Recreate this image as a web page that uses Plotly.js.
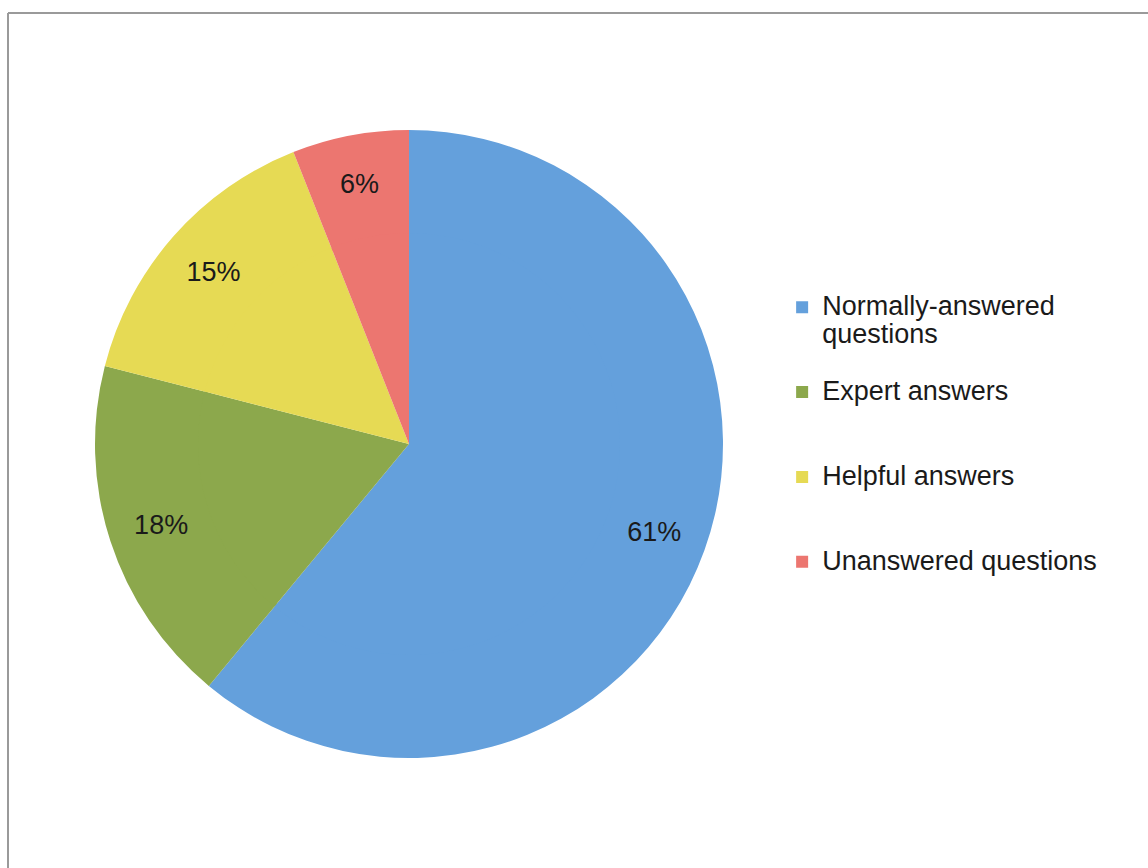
<!DOCTYPE html>
<html>
<head>
<meta charset="utf-8">
<script src="https://cdn.plot.ly/plotly-3.0.1.min.js"></script>
<style>
  html, body { margin: 0; padding: 0; background: #ffffff; }
  #chart { width: 1148px; height: 868px; }
</style>
</head>
<body>
<div id="chart"></div>
<script>
// ---- data ----
const categories = ["Normally-answered questions", "Expert answers", "Helpful answers", "Unanswered questions"];
const legendLabels = ["Normally-answered<br>questions", "Expert answers", "Helpful answers", "Unanswered questions"];
const shares = [61, 18, 15, 6];
const sliceColors = ["#64A0DC", "#8CA84C", "#E6DA54", "#EC7670"];

// legend text rendered larger than the legend's base font to get the wide spacing
const legendText = legendLabels.map(function (l, i) {
  const extra = (i === 0) ? "<br> " : "<br> <br> ";
  return '<span style="font-size:27px">' + l + '</span>' + extra;
});

const W = 1148, H = 868;
const cx = 409, cy = 444, r = 314;
const holeFrac = 0.66;
const innerR = r * (holeFrac + 0.012);

function domainFor(rad) {
  return {
    x: [(cx - rad) / W, (cx + rad) / W],
    y: [1 - (cy + rad) / H, 1 - (cy - rad) / H]
  };
}

// outer part of the pie (carries the percentage labels)
const outerTrace = {
  type: "pie",
  labels: legendText,
  values: shares,
  customdata: categories,
  sort: false,
  direction: "clockwise",
  rotation: 0,
  hole: holeFrac,
  marker: { colors: sliceColors, line: { width: 0 } },
  textinfo: "percent",
  texttemplate: "%{percent:.0%}",
  textposition: "inside",
  insidetextorientation: "horizontal",
  textfont: { family: "Liberation Sans, Arial, sans-serif", size: 27, color: "#1a1a1a" },
  hoverinfo: "none",
  domain: domainFor(r)
};

// inner part of the same pie (same data, no labels)
const innerTrace = {
  type: "pie",
  labels: legendText,
  values: shares,
  sort: false,
  direction: "clockwise",
  rotation: 0,
  marker: { colors: sliceColors, line: { width: 0 } },
  textinfo: "none",
  hoverinfo: "none",
  showlegend: false,
  domain: domainFor(innerR)
};

const layout = {
  width: W,
  height: H,
  margin: { l: 0, r: 0, t: 0, b: 0 },
  paper_bgcolor: "#ffffff",
  showlegend: true,
  legend: {
    x: 0.6813,
    y: 1 - 287 / H,
    xanchor: "left",
    yanchor: "top",
    valign: "top",
    font: { family: "Liberation Sans, Arial, sans-serif", size: 21, color: "#1a1a1a" },
    itemwidth: 30,
    bgcolor: "rgba(0,0,0,0)"
  },
  shapes: [
    { type: "line", xref: "paper", yref: "paper", x0: 8 / W, x1: 1, y0: 1 - 13 / H, y1: 1 - 13 / H,
      line: { color: "#9a9a9a", width: 2 } },
    { type: "line", xref: "paper", yref: "paper", x0: 8 / W, x1: 8 / W, y0: 0, y1: 1 - 13 / H,
      line: { color: "#9a9a9a", width: 2 } }
  ]
};

Plotly.newPlot("chart", [outerTrace, innerTrace], layout, { displayModeBar: false, staticPlot: true });
</script>
</body>
</html>
